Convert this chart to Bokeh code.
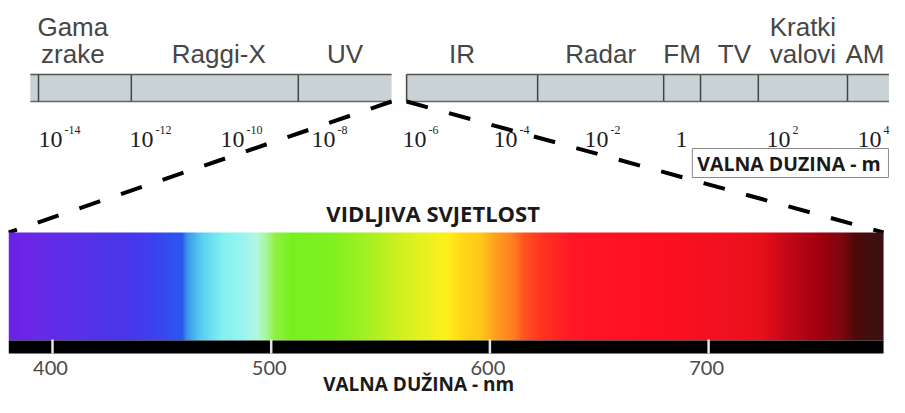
import numpy as np
from bokeh.plotting import figure
from bokeh.models import Range1d
from bokeh.core.properties import value
from bokeh.embed import file_html
from bokeh.resources import INLINE

# ---------------- data ----------------
# electromagnetic bands on the top scale (log10 of wavelength in metres)
band_line1 = ["Gama", "", "", "", "", "", "", "Kratki", ""]
band_line2 = ["zrake", "Raggi-X", "UV", "IR", "Radar", "FM", "TV", "valovi", "AM"]
band_start = [-14.18, -11.96, -8.29, -5.91, -3.03, -0.26, 0.55, 1.82, 3.78]
band_end = [-11.96, -8.29, -6.24, -3.03, -0.26, 0.55, 1.82, 3.78, 4.77]
extra_divider = [-14.0]
visible_gap = [-6.24, -5.91]

# top scale tick labels (10^exp)
exp_ticks = [-14, -12, -10, -8, -6, -4, -2, 0, 2, 4]
exp_base = ["10", "10", "10", "10", "10", "10", "10", "1", "10", "10"]
exp_sup = ["-14", "-12", "-10", "-8", "-6", "-4", "-2", "", "2", "4"]

# visible spectrum (nm) and colour stops
spectrum_range = [380, 780]
nm_ticks = [400, 500, 600, 700]
nm_labels = ["400", "500", "600", "700"]
stop_nm = [380, 390, 404, 422, 436, 445, 454, 459, 461, 466, 470, 477, 486, 493,
           497, 502, 509, 527, 545, 559, 573, 580, 587, 596, 603, 610, 616, 625,
           637, 674, 710, 724, 737, 751, 760, 767, 774, 780]
stop_col = ["#6b22e6", "#6a28e6", "#5f2ee8", "#5034e8", "#4838ea", "#3f40ee", "#3050f0",
            "#2a58f0", "#3a90e8", "#50c0f0", "#60d8f0", "#80f0f0", "#98f4f0", "#b0f8e0",
            "#a8f8a0", "#90f040", "#78f020", "#80f020", "#a8f020", "#d0f020", "#f0f020",
            "#fff018", "#ffd818", "#ffc818", "#ff9c20", "#ff8020", "#ff5020", "#ff3020",
            "#ff1828", "#ff1020", "#f01020", "#e81018", "#c00818", "#a00010", "#800810",
            "#500808", "#401010", "#3a1010"]

# ---------------- layout ----------------
W, H = 889, 397
N0, N1 = 376.22, 782.72         # nm range over the full width
E0, E1 = -14.835, 4.703         # log10(m) range over the full width


def Y(py):
    return H - py


def exp_to_nm(e):
    return N0 + (e - E0) / (E1 - E0) * (N1 - N0)


p = figure(width=W, height=H, x_range=Range1d(N0, N1), y_range=Range1d(0, H),
           output_backend="svg", toolbar_location=None, min_border=0)
p.extra_x_ranges = {"top": Range1d(E0, E1)}
p.axis.visible = False
p.grid.visible = False
p.outline_line_color = None
p.background_fill_color = "white"
p.border_fill_color = "white"

sans = value("Liberation Sans")
serif = value("Liberation Serif")
bold = value("Open Sans")

# ---- top bar ----
bar_top, bar_bot = Y(74), Y(101)
p.quad(left=band_start, right=band_end, bottom=bar_bot, top=bar_top,
       fill_color="#c9d3d6", line_color=None, x_range_name="top")
p.segment(x0=band_start, x1=band_end, y0=bar_top, y1=bar_top,
          line_color="#555555", line_width=1.5, x_range_name="top")
p.segment(x0=band_start, x1=band_end, y0=bar_bot, y1=bar_bot,
          line_color="#666666", line_width=1.5, x_range_name="top")
dividers = extra_divider + band_start[1:]
p.segment(x0=dividers, x1=dividers, y0=bar_bot, y1=bar_top,
          line_color="#444444", line_width=1.5, x_range_name="top")

centers = [(a + b) / 2 for a, b in zip(band_start, band_end)]
label_nudge = [-8, 4, 0, -10, 0, 0, 5, 0, -5]
p.text(x=centers, y=Y(26), text=band_line1, x_offset=label_nudge,
       text_align="center", text_baseline="middle", text_font=sans,
       text_font_size="26px", text_color="#464646", x_range_name="top")
p.text(x=centers, y=Y(53), text=band_line2, x_offset=label_nudge,
       text_align="center", text_baseline="middle", text_font=sans,
       text_font_size="26px", text_color="#464646", x_range_name="top")

# ---- top scale labels ----
p.text(x=exp_ticks, y=Y(139), text=exp_base, text_align="left",
       text_baseline="middle", text_font=serif, text_font_size="24px",
       text_color="#1e1e1e", x_range_name="top")
p.text(x=exp_ticks, y=Y(129), text=exp_sup, text_align="left", x_offset=26,
       text_baseline="middle", text_font=serif, text_font_size="12px",
       text_color="#1e1e1e", x_range_name="top")

# ---- wavelength box ----
p.quad(left=[0.37], right=[4.68], bottom=Y(177), top=Y(148),
       fill_color="white", line_color="#8a8a8a", line_width=1, x_range_name="top")
p.text(x=[0.37], y=Y(163), text=["VALNA DUZINA - m"], x_offset=5,
       text_align="left", text_baseline="middle", text_font=bold,
       text_font_style="bold", text_font_size="19.5px", text_color="#1a1a1a",
       x_range_name="top")

# ---- dashed zoom lines ----
spec_top, spec_bot, black_bot = Y(232), Y(340), Y(353)
for g, s in zip(visible_gap, spectrum_range):
    p.line(x=[exp_to_nm(g), s], y=[bar_bot, spec_top], line_color="black",
           line_width=4, line_dash="22 22")

# ---- spectrum ----
def hex_rgb(h):
    return [int(h[i:i + 2], 16) for i in (1, 3, 5)]

rgb = np.array([hex_rgb(c) for c in stop_col], dtype=float)
xs = np.arange(spectrum_range[0], spectrum_range[1] + 0.5, 0.5)
img = np.zeros((2, len(xs)), dtype=np.uint32)
view = img.view(dtype=np.uint8).reshape((2, len(xs), 4))
for ch in range(3):
    view[:, :, ch] = np.interp(xs, stop_nm, rgb[:, ch]).astype(np.uint8)
view[:, :, 3] = 255
p.image_rgba(image=[img], x=spectrum_range[0], y=spec_bot,
             dw=spectrum_range[1] - spectrum_range[0], dh=spec_top - spec_bot)

p.quad(left=[spectrum_range[0]], right=[spectrum_range[1]], bottom=black_bot,
       top=spec_bot, fill_color="black", line_color=None)
p.segment(x0=nm_ticks, x1=nm_ticks, y0=black_bot, y1=Y(339),
          line_color="#e6e6e6", line_width=2.5)
p.text(x=nm_ticks, y=Y(367), text=nm_labels, x_offset=-2, text_align="center",
       text_baseline="middle", text_font=value("Lato"), text_font_size="20px",
       text_color="#4a4a4a")

mid = (spectrum_range[0] + spectrum_range[1]) / 2
p.text(x=[mid], y=Y(212), text=["VIDLJIVA SVJETLOST"], x_offset=-13,
       text_align="center", text_baseline="middle", text_font=bold,
       text_font_style="bold", text_font_size="22px", text_color="#1a1a1a")
p.text(x=[mid], y=Y(383.5), text=["VALNA DUŽINA -  nm"], x_offset=-25,
       text_align="center", text_baseline="middle", text_font=bold,
       text_font_style="bold", text_font_size="19px", text_color="#1a1a1a")

open("out.html", "w").write(file_html(p, INLINE))
